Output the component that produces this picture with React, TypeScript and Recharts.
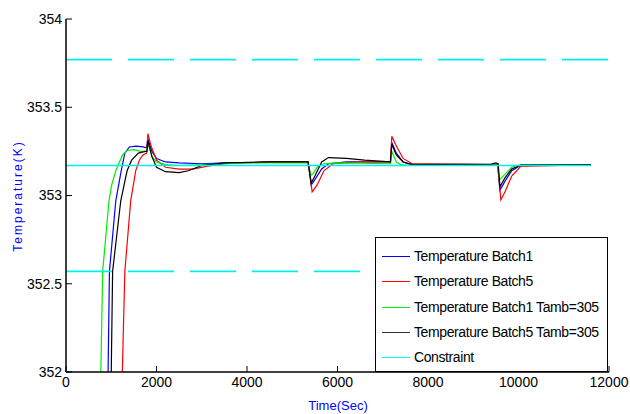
import { LineChart, Line, XAxis, YAxis } from "recharts"

const timeTicks = [0, 2000, 4000, 6000, 8000, 10000, 12000]
const tempTicks = [352, 352.5, 353, 353.5, 354]

// Temperature Batch1
const batch1Time = [870, 930, 960, 1100, 1220, 1300, 1400, 1550, 1700, 1780, 1810, 1900, 2000, 2200, 2500, 3000, 3500, 4500, 5350, 5420, 5500, 5650, 5800, 6200, 7000, 7170, 7200, 7300, 7450, 7650, 9540, 9590, 9700, 9850, 10050, 11600]
const batch1Temp = [351.5, 352.0, 352.57, 352.97, 353.14, 353.24, 353.275, 353.28, 353.275, 353.27, 353.32, 353.25, 353.21, 353.19, 353.185, 353.18, 353.185, 353.19, 353.19, 353.06, 353.09, 353.15, 353.18, 353.19, 353.19, 353.19, 353.3, 353.24, 353.19, 353.175, 353.175, 353.03, 353.08, 353.14, 353.172, 353.175]

// Temperature Batch5
const batch5Time = [1200, 1245, 1300, 1430, 1540, 1620, 1700, 1780, 1810, 1880, 2000, 2200, 2500, 2800, 3100, 3500, 4500, 5350, 5440, 5550, 5700, 5900, 6500, 7170, 7200, 7300, 7450, 7650, 8000, 9540, 9610, 9700, 9850, 10050, 11600]
const batch5Temp = [351.5, 352.0, 352.57, 352.97, 353.14, 353.2, 353.23, 353.24, 353.35, 353.28, 353.2, 353.16, 353.15, 353.15, 353.165, 353.18, 353.19, 353.19, 353.02, 353.06, 353.14, 353.18, 353.19, 353.19, 353.335, 353.28, 353.21, 353.18, 353.18, 353.175, 352.975, 353.02, 353.11, 353.165, 353.175]

// Temperature Batch1 Tamb=305
const batch1AmbTime = [700, 770, 810, 950, 1010, 1100, 1250, 1350, 1500, 1650, 1780, 1820, 1900, 2000, 2200, 2500, 3000, 3500, 4000, 5350, 5410, 5450, 5550, 5700, 6000, 7170, 7200, 7300, 7400, 7600, 9540, 9580, 9700, 9850, 10000, 11600]
const batch1AmbTemp = [351.5, 352.0, 352.57, 352.97, 353.06, 353.14, 353.23, 353.255, 353.26, 353.25, 353.25, 353.29, 353.22, 353.19, 353.175, 353.17, 353.175, 353.18, 353.185, 353.185, 353.115, 353.12, 353.16, 353.18, 353.185, 353.18, 353.25, 353.19, 353.175, 353.17, 353.172, 353.09, 353.12, 353.16, 353.172, 353.175]

// Temperature Batch5 Tamb=305
const batch5AmbTime = [950, 1000, 1030, 1210, 1350, 1450, 1600, 1750, 1790, 1810, 1900, 2000, 2200, 2500, 2700, 3000, 3500, 4500, 5350, 5420, 5500, 5650, 5800, 6200, 6600, 7170, 7200, 7300, 7450, 7650, 9400, 9500, 9550, 9590, 9700, 9850, 10050, 11600]
const batch5AmbTemp = [351.5, 352.0, 352.57, 352.97, 353.14, 353.2, 353.24, 353.25, 353.25, 353.31, 353.22, 353.16, 353.135, 353.13, 353.14, 353.17, 353.185, 353.19, 353.19, 353.07, 353.11, 353.19, 353.215, 353.21, 353.2, 353.19, 353.29, 353.23, 353.19, 353.175, 353.178, 353.185, 353.18, 353.05, 353.1, 353.15, 353.172, 353.175]

// Constraint
const constraintTime = [0, 11600]
const constraintBoundTime = [0, 12000]
const constraintMid = [353.17, 353.17]
const constraintHigh = [353.77, 353.77]
const constraintLow = [352.57, 352.57]

const toPoints = (ts: number[], vs: number[]) => ts.map((t, i) => ({ t, v: vs[i] }))

const series = [
  { name: "Temperature Batch1", color: "#0000ff", data: toPoints(batch1Time, batch1Temp) },
  { name: "Temperature Batch5", color: "#ff0000", data: toPoints(batch5Time, batch5Temp) },
  { name: "Temperature Batch1 Tamb=305", color: "#00ee00", data: toPoints(batch1AmbTime, batch1AmbTemp) },
  { name: "Temperature Batch5 Tamb=305", color: "#000000", data: toPoints(batch5AmbTime, batch5AmbTemp) },
]

const legendItems = [
  { name: "Temperature Batch1", color: "#0000ff" },
  { name: "Temperature Batch5", color: "#ff0000" },
  { name: "Temperature Batch1 Tamb=305", color: "#00ee00" },
  { name: "Temperature Batch5 Tamb=305", color: "#333333" },
  { name: "Constraint", color: "#00ffff" },
]

const font = "'Liberation Sans', Arial, sans-serif"
const tickStyle = { fill: "#000", fontSize: 14, fontFamily: font }
const axisLine = { stroke: "#000", strokeWidth: 1.5 }

export default function App() {
  return (
    <div style={{ position: "absolute", left: 0, top: 0, width: 630, height: 414, background: "#fff" }}>
      <LineChart width={630} height={414} margin={{ top: 19, right: 21, bottom: 0, left: 16 }}>
        <XAxis
          xAxisId="b"
          type="number"
          dataKey="t"
          domain={[0, 12000]}
          ticks={timeTicks}
          allowDataOverflow
          height={42}
          tickSize={-6}
          tickMargin={11}
          tick={tickStyle}
          axisLine={axisLine}
          tickLine={{ stroke: "#000" }}
        />
        <XAxis
          xAxisId="top"
          orientation="top"
          type="number"
          domain={[0, 12000]}
          ticks={timeTicks}
          height={0}
          tickSize={-6}
          tickFormatter={() => ""}
          axisLine={axisLine}
          tickLine={{ stroke: "#000" }}
        />
        <YAxis
          yAxisId="l"
          type="number"
          domain={[352, 354]}
          ticks={tempTicks}
          allowDataOverflow
          width={50}
          tickSize={-6}
          tickMargin={10}
          tick={tickStyle}
          axisLine={axisLine}
          tickLine={{ stroke: "#000" }}
        />
        <YAxis
          yAxisId="right"
          orientation="right"
          type="number"
          domain={[352, 354]}
          ticks={tempTicks}
          width={0}
          tickSize={-6}
          tickFormatter={() => ""}
          axisLine={axisLine}
          tickLine={{ stroke: "#000" }}
        />
        {series.map((s) => (
          <Line
            key={s.name}
            xAxisId="b"
            yAxisId="l"
            data={s.data}
            dataKey="v"
            name={s.name}
            type="linear"
            stroke={s.color}
            strokeWidth={1.2}
            dot={false}
            isAnimationActive={false}
          />
        ))}
        <Line xAxisId="b" yAxisId="l" data={toPoints(constraintTime, constraintMid)} dataKey="v" name="Constraint" stroke="#00f0f0" strokeWidth={1.6} dot={false} isAnimationActive={false} />
        <Line xAxisId="b" yAxisId="l" data={toPoints(constraintBoundTime, constraintHigh)} dataKey="v" name="Constraint high" stroke="#00f0f0" strokeWidth={1.6} strokeDasharray="46 16" dot={false} isAnimationActive={false} />
        <Line xAxisId="b" yAxisId="l" data={toPoints(constraintBoundTime, constraintLow)} dataKey="v" name="Constraint low" stroke="#00f0f0" strokeWidth={1.6} strokeDasharray="46 16" dot={false} isAnimationActive={false} />
        <text
          x={18}
          y={196}
          transform="rotate(-90 18 196)"
          textAnchor="middle"
          dominantBaseline="central"
          fill="#0000ff"
          fontSize={12}
          letterSpacing={2}
          fontFamily={font}
        >
          Temperature(K)
        </text>
        <text x={338} y={405} textAnchor="middle" dominantBaseline="central" fill="#0000ff" fontSize={13} fontFamily={font}>
          Time(Sec)
        </text>
      </LineChart>
      <div
        style={{
          position: "absolute",
          left: 375,
          top: 237,
          width: 233,
          height: 135,
          boxSizing: "border-box",
          border: "1px solid #000",
          background: "#fff",
          fontFamily: font,
        }}
      >
        {legendItems.map((item, i) => (
          <div key={item.name} style={{ position: "absolute", left: 0, top: 18 + i * 25.3 - 9, height: 18, width: 230 }}>
            <div style={{ position: "absolute", left: 6, top: 9, width: 28, height: 1, background: item.color }} />
            <div style={{ position: "absolute", left: 38, top: 0, lineHeight: "18px", fontSize: 14, letterSpacing: -0.4, whiteSpace: "nowrap", color: "#000" }}>
              {item.name}
            </div>
          </div>
        ))}
      </div>
    </div>
  )
}
